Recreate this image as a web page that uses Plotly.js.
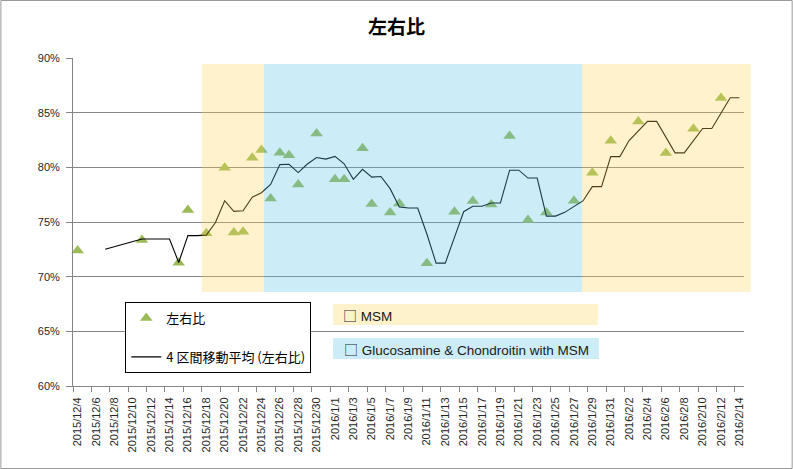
<!DOCTYPE html>
<html>
<head>
<meta charset="utf-8">
<script src="https://cdn.plot.ly/plotly-3.0.1.min.js"></script>
<style>
html,body{margin:0;padding:0;background:#fff;}
#chart{width:793px;height:469px;}
</style>
</head>
<body>
<div id="chart"></div>
<script>
// ---- data ----
const chartTitle = '左右比';
const seriesName = '左右比';
const maName = '4 区間移動平均 (左右比)';

const pointDates = ['2015-12-04','2015-12-11','2015-12-15','2015-12-16','2015-12-18','2015-12-20','2015-12-21','2015-12-22','2015-12-23','2015-12-24','2015-12-25','2015-12-26','2015-12-27','2015-12-28','2015-12-30','2016-01-01','2016-01-02','2016-01-04','2016-01-05','2016-01-07','2016-01-08','2016-01-11','2016-01-14','2016-01-16','2016-01-18','2016-01-20','2016-01-22','2016-01-24','2016-01-27','2016-01-29','2016-01-31','2016-02-03','2016-02-06','2016-02-09','2016-02-12'];
const pointValues = [72.4,73.35,71.27,76.1,73.96,79.96,74.05,74.1,80.88,81.58,77.16,81.34,81.1,78.44,83.1,78.9,78.9,81.74,76.64,75.88,76.7,71.22,75.94,76.92,76.6,82.86,75.18,75.88,76.95,79.5,82.43,84.2,81.3,83.53,86.34];

const maDates = ['2015-12-07','2015-12-11','2015-12-12','2015-12-13','2015-12-14','2015-12-15','2015-12-16','2015-12-17','2015-12-18','2015-12-19','2015-12-20','2015-12-21','2015-12-22','2015-12-23','2015-12-24','2015-12-25','2015-12-26','2015-12-27','2015-12-28','2015-12-29','2015-12-30','2015-12-31','2016-01-01','2016-01-02','2016-01-03','2016-01-04','2016-01-05','2016-01-06','2016-01-07','2016-01-08','2016-01-09','2016-01-10','2016-01-11','2016-01-12','2016-01-13','2016-01-14','2016-01-15','2016-01-16','2016-01-17','2016-01-18','2016-01-19','2016-01-20','2016-01-21','2016-01-22','2016-01-23','2016-01-24','2016-01-25','2016-01-26','2016-01-27','2016-01-28','2016-01-29','2016-01-30','2016-01-31','2016-02-01','2016-02-02','2016-02-03','2016-02-04','2016-02-05','2016-02-06','2016-02-07','2016-02-08','2016-02-09','2016-02-10','2016-02-11','2016-02-12','2016-02-13','2016-02-14'];
const maValues = [72.5,73.44,73.44,73.44,73.44,71.3,73.75,73.75,73.8,74.95,76.95,75.97,76.03,77.27,77.68,78.44,80.25,80.28,79.52,80.3,80.9,80.75,81.0,80.32,78.9,79.82,79.1,79.16,78.05,76.38,76.28,76.28,73.9,71.24,71.24,73.6,75.94,76.44,76.44,76.74,76.74,79.74,79.74,79.02,79.02,75.54,75.54,75.88,76.4,76.95,78.24,78.24,80.98,80.98,82.45,83.33,84.2,84.2,82.77,81.32,81.32,82.45,83.55,83.55,84.95,86.36,86.36];

const tickLabels = ['2015/12/4','2015/12/6','2015/12/8','2015/12/10','2015/12/12','2015/12/14','2015/12/16','2015/12/18','2015/12/20','2015/12/22','2015/12/24','2015/12/26','2015/12/28','2015/12/30','2016/1/1','2016/1/3','2016/1/5','2016/1/7','2016/1/9','2016/1/11','2016/1/13','2016/1/15','2016/1/17','2016/1/19','2016/1/21','2016/1/23','2016/1/25','2016/1/27','2016/1/29','2016/1/31','2016/2/2','2016/2/4','2016/2/6','2016/2/8','2016/2/10','2016/2/12','2016/2/14'];
const yTickVals = [60,65,70,75,80,85,90];
const yTickLabels = ['60%','65%','70%','75%','80%','85%','90%'];
const noteLabels = ['MSM','Glucosamine &amp; Chondroitin with MSM'];

// ---- helpers ----
function toIso(s){const p=s.split('/');return p[0]+'-'+p[1].padStart(2,'0')+'-'+p[2].padStart(2,'0');}
const W=793,H=469,ML=72.7,MR=48.7,MT=58,MB=83;
const PW=W-ML-MR, PH=H-MT-MB;
const px=x=>(x-ML)/PW;
const py=y=>1-(y-MT)/PH;

const grid='#868686';
const tickFont={family:'"Liberation Sans", Arial, sans-serif',size:11,color:'#262626'};

const traces=[
 {type:'scatter',mode:'markers',name:seriesName,x:pointDates,y:pointValues,
  marker:{symbol:'triangle-up',size:11,color:'#9BBB59',line:{width:0}},
  legendgroup:'a',cliponaxis:false},
 {type:'scatter',mode:'lines',name:maName,x:maDates,y:maValues,
  line:{color:'#000000',width:1.1},legendgroup:'b',connectgaps:true}
];

function rect(x0,y0,x1,y1,fill,opacity,layer){
 return {type:'rect',xref:'paper',yref:'paper',x0:px(x0),x1:px(x1),y0:py(y1),y1:py(y0),
   fillcolor:fill,opacity:opacity,line:{width:0},layer:layer};
}

const shapes=[
 rect(201.5,64,264,292,'rgb(255,212,85)',0.3,'above'),
 rect(264,64,582,292,'rgb(85,192,228)',0.3,'above'),
 rect(582,64,751,292,'rgb(255,212,85)',0.3,'above'),
 rect(333,304,598,325,'#FEF2CC',1,'above'),
 rect(333,338,599,359,'#CCECF8',1,'above'),
 {type:'rect',xref:'paper',yref:'paper',x0:px(0.5),x1:px(792.5),y0:py(468.5),y1:py(0.5),
  line:{color:'#9a9a9a',width:1},fillcolor:'rgba(0,0,0,0)',layer:'below'}
];

const noteFont={family:'"Liberation Sans", Arial, sans-serif',size:13.5,color:'#1a1a1a'};
const box='<span style="font-family:\'Noto Sans CJK JP\';font-size:14px">□</span>';
const annotations=[
 {xref:'paper',yref:'paper',x:px(341),y:py(314.5),xanchor:'left',yanchor:'middle',text:box+' '+noteLabels[0],showarrow:false,font:noteFont},
 {xref:'paper',yref:'paper',x:px(342),y:py(348.5),xanchor:'left',yanchor:'middle',text:box+' '+noteLabels[1],showarrow:false,font:noteFont}
];

const layout={
 width:W,height:H,
 margin:{l:ML,r:MR,t:MT,b:MB,pad:0},
 paper_bgcolor:'#ffffff',plot_bgcolor:'#ffffff',
 title:{text:'<b>'+chartTitle+'</b>',x:0.5,xanchor:'center',y:1-27/H,yanchor:'middle',yref:'container',
   font:{family:'"Noto Sans CJK JP", sans-serif',size:19,color:'#000000'}},
 showlegend:true,
 legend:{x:px(125),y:py(302),xanchor:'left',yanchor:'top',bgcolor:'#ffffff',
   bordercolor:'#000000',borderwidth:1,traceorder:'grouped',tracegroupgap:19,
   font:{family:'"Noto Sans CJK JP", sans-serif',size:13,color:'#000000'}},
 xaxis:{type:'date',range:['2015-12-03 12:00','2016-02-14 12:00'],
   tickmode:'array',tickvals:tickLabels.map(toIso),ticktext:tickLabels,
   tickangle:-90,ticks:'',tickfont:tickFont,ticklabelstandoff:6,
   minor:{tickmode:'linear',tick0:'2015-12-03 12:00',dtick:2*86400000,ticks:'outside',ticklen:5,tickcolor:grid,tickwidth:1,showgrid:false},
   showgrid:false,showline:true,linecolor:grid,linewidth:1,zeroline:false,fixedrange:true},
 yaxis:{range:[60,90],tickmode:'array',tickvals:yTickVals,ticktext:yTickLabels,
   ticks:'outside',ticklen:6,tickcolor:grid,tickfont:tickFont,ticklabelstandoff:4,
   showgrid:true,gridcolor:grid,gridwidth:1,showline:true,linecolor:grid,linewidth:1,zeroline:false,fixedrange:true},
 shapes:shapes,
 annotations:annotations
};

Plotly.newPlot('chart',traces,layout,{displayModeBar:false,staticPlot:true});
</script>
</body>
</html>
